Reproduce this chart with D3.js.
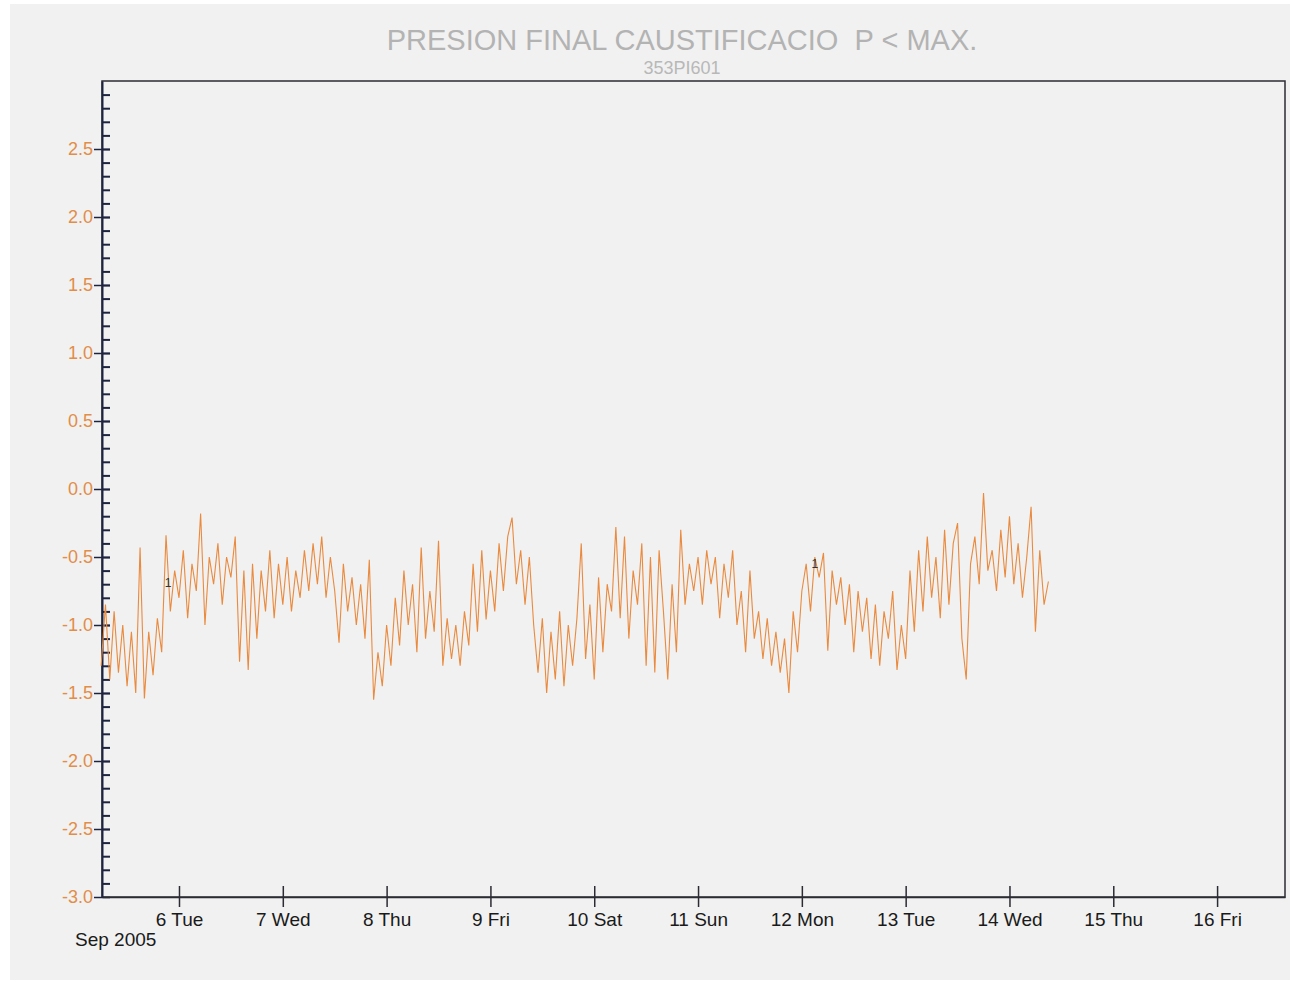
<!DOCTYPE html>
<html>
<head>
<meta charset="utf-8">
<script src="https://cdn.jsdelivr.net/npm/d3@7"></script>
<style>
  body { margin: 0; background: #ffffff; }
  svg { display: block; }
</style>
</head>
<body>
<div id="chart"></div>
<script>
// hourly readings, 353PI601, Sep 2005
var startHour = new Date(2005, 8, 5, 6, 0);
var day05 = [-1.3, -0.85, -1.4, -0.9, -1.35, -1.0, -1.45, -1.05, -1.5, -0.43, -1.54, -1.05, -1.37, -0.95, -1.2, -0.34, -0.9, -0.6];
var day06 = [-0.8, -0.45, -0.95, -0.55, -0.75, -0.18, -1.0, -0.5, -0.7, -0.4, -0.85, -0.5, -0.65, -0.35, -1.27, -0.6, -1.33, -0.55, -1.1, -0.6, -0.9, -0.45, -0.95, -0.55];
var day07 = [-0.85, -0.5, -0.9, -0.6, -0.8, -0.45, -0.75, -0.4, -0.7, -0.35, -0.8, -0.5, -0.75, -1.13, -0.55, -0.9, -0.65, -1.0, -0.7, -1.1, -0.52, -1.55, -1.2, -1.45];
var day08 = [-1.0, -1.3, -0.8, -1.15, -0.6, -1.0, -0.7, -1.2, -0.43, -1.1, -0.75, -1.05, -0.38, -1.3, -0.95, -1.25, -1.0, -1.3, -0.9, -1.15, -0.55, -1.05, -0.45, -0.96];
var day09 = [-0.6, -0.9, -0.4, -0.75, -0.35, -0.21, -0.7, -0.45, -0.85, -0.5, -1.0, -1.35, -0.95, -1.5, -1.05, -1.4, -0.9, -1.45, -1.0, -1.3, -0.95, -0.4, -1.25, -0.85];
var day10 = [-1.4, -0.65, -1.2, -0.7, -0.9, -0.28, -0.95, -0.35, -1.1, -0.6, -0.85, -0.4, -1.3, -0.5, -1.35, -0.45, -0.9, -1.4, -0.7, -1.2, -0.3, -0.85, -0.55, -0.75];
var day11 = [-0.5, -0.85, -0.45, -0.7, -0.5, -0.95, -0.55, -0.8, -0.45, -1.0, -0.75, -1.2, -0.6, -1.1, -0.9, -1.25, -0.95, -1.3, -1.05, -1.35, -1.1, -1.5, -0.9, -1.2];
var day12 = [-0.75, -0.55, -0.9, -0.5, -0.65, -0.47, -1.19, -0.6, -0.85, -0.65, -1.0, -0.7, -1.2, -0.75, -1.05, -0.8, -1.25, -0.85, -1.3, -0.9, -1.1, -0.75, -1.33, -1.0];
var day13 = [-1.25, -0.6, -1.05, -0.45, -0.9, -0.35, -0.8, -0.5, -0.95, -0.3, -0.85, -0.4, -0.25, -1.1, -1.4, -0.55, -0.35, -0.7, -0.03, -0.6, -0.45, -0.75, -0.3, -0.65];
var day14 = [-0.2, -0.7, -0.4, -0.8, -0.5, -0.13, -1.05, -0.45, -0.85, -0.68];

var yTicks = [-3.0, -2.5, -2.0, -1.5, -1.0, -0.5, 0.0, 0.5, 1.0, 1.5, 2.0, 2.5];
var dayTicks = [6, 7, 8, 9, 10, 11, 12, 13, 14, 15, 16];
var dayNames = ["Tue", "Wed", "Thu", "Fri", "Sat", "Sun", "Mon", "Tue", "Wed", "Thu", "Fri"];
var markers = [
    { t: new Date(2005, 8, 5, 21, 30), v: -0.72 },
    { t: new Date(2005, 8, 12, 3, 0), v: -0.58 }
];

var values = [].concat(day05, day06, day07, day08, day09, day10, day11, day12, day13, day14);
var series = values.map(function(v, i) {
    return { t: d3.timeHour.offset(startHour, i), v: v };
});

var width = 1292, height = 982;
var plotLeft = 102, plotRight = 1285, plotTop = 81, plotBottom = 897;
var font = 'Liberation Sans, Arial, sans-serif';

var svg = d3.select('#chart').append('svg')
    .attr('width', width)
    .attr('height', height);

// paper
svg.append('rect')
    .attr('x', 10).attr('y', 4)
    .attr('width', 1280).attr('height', 976)
    .style('fill', '#f1f1f1');

var x = d3.scaleTime()
    .domain([new Date(2005, 8, 5, 6, 12), new Date(2005, 8, 16, 15, 42)])
    .range([plotLeft, plotRight]);

var y = d3.scaleLinear()
    .domain([-3, 3])
    .range([plotBottom, plotTop]);

// title
svg.append('text')
    .attr('x', 682).attr('y', 50)
    .attr('text-anchor', 'middle')
    .attr('xml:space', 'preserve')
    .style('white-space', 'pre')
    .style('font-family', font)
    .style('font-size', '29px')
    .style('fill', '#b3b3b3')
    .text('PRESION FINAL CAUSTIFICACIO  P < MAX.');

svg.append('text')
    .attr('x', 682).attr('y', 74)
    .attr('text-anchor', 'middle')
    .style('font-family', font)
    .style('font-size', '18px')
    .style('fill', '#b8b8b8')
    .text('353PI601');

// frame
svg.append('rect')
    .attr('x', plotLeft).attr('y', plotTop)
    .attr('width', plotRight - plotLeft).attr('height', plotBottom - plotTop)
    .style('fill', 'none')
    .style('stroke', '#2b2b33')
    .style('stroke-width', 1.5);

// y axis: minor ticks every 0.1 inside, majors across the line
var yMinor = d3.axisRight(y)
    .tickValues(d3.range(-29, 30).map(function(d) { return d / 10; }))
    .tickSize(8)
    .tickSizeOuter(0)
    .tickFormat('');

var gMinor = svg.append('g')
    .attr('transform', 'translate(' + plotLeft + ',0)')
    .call(yMinor);
gMinor.select('.domain').remove();
gMinor.selectAll('line').style('stroke', '#1e2440').style('stroke-width', 2);

var yAxis = d3.axisLeft(y)
    .tickValues(yTicks)
    .tickSize(8)
    .tickSizeOuter(0)
    .tickPadding(1)
    .tickFormat(function(d) { return d3.format('.1f')(d).replace('\u2212', '-'); });

var gy = svg.append('g')
    .attr('transform', 'translate(' + plotLeft + ',0)')
    .call(yAxis);
gy.select('.domain').style('stroke', '#1e2440').style('stroke-width', 2);
gy.selectAll('line')
    .attr('x2', 8).attr('x1', -8)
    .style('stroke', '#1e2440').style('stroke-width', 1.5);
gy.selectAll('text')
    .style('font-family', font)
    .style('font-size', '18px')
    .style('fill', '#e28d48');

// x axis
var xAxis = d3.axisBottom(x)
    .tickValues(dayTicks.map(function(d) { return new Date(2005, 8, d); }))
    .tickSize(10)
    .tickSizeOuter(0)
    .tickPadding(6)
    .tickFormat(function(d, i) { return d.getDate() + ' ' + dayNames[i]; });

var gx = svg.append('g')
    .attr('transform', 'translate(0,' + plotBottom + ')')
    .call(xAxis);
gx.select('.domain').style('stroke', '#2b2b33').style('stroke-width', 1.5);
gx.selectAll('line')
    .attr('y1', -11)
    .style('stroke', '#2b2b33').style('stroke-width', 1.5);
gx.selectAll('text')
    .style('font-family', font)
    .style('font-size', '19px')
    .style('fill', '#1a1a1a');

svg.append('text')
    .attr('x', 75).attr('y', 946)
    .style('font-family', font)
    .style('font-size', '19px')
    .style('fill', '#1a1a1a')
    .text('Sep 2005');

// trend line
var line = d3.line()
    .x(function(d) { return x(d.t); })
    .y(function(d) { return y(d.v); });

svg.append('path')
    .datum(series)
    .attr('d', line)
    .style('fill', 'none')
    .style('stroke', '#e98a3e')
    .style('stroke-width', 1.1);

svg.selectAll('.marker')
    .data(markers)
    .enter().append('text')
    .attr('class', 'marker')
    .attr('x', function(d) { return x(d.t); })
    .attr('y', function(d) { return y(d.v); })
    .attr('text-anchor', 'middle')
    .style('font-family', font)
    .style('font-size', '12px')
    .style('fill', '#333')
    .text('1');
</script>
</body>
</html>
